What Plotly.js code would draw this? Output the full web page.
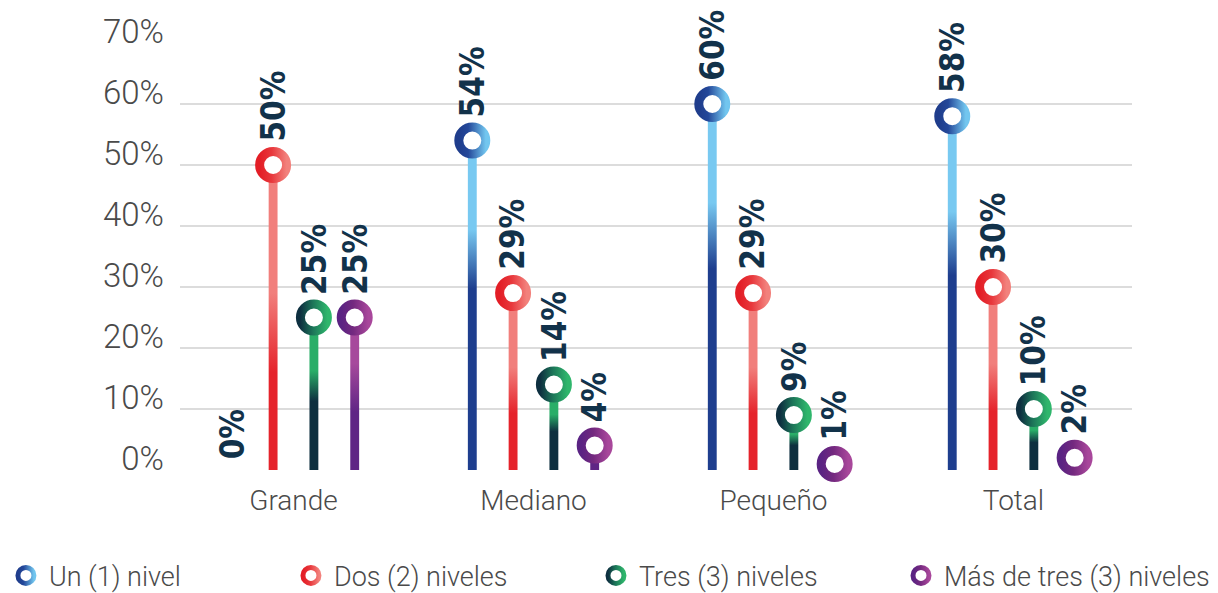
<!DOCTYPE html>
<html>
<head>
<meta charset="utf-8">
<script src="https://cdn.plot.ly/plotly-3.0.1.min.js"></script>
<style>
  html, body { margin: 0; padding: 0; background: #ffffff; }
  #chart { width: 1218px; height: 593px; }
</style>
</head>
<body>
<div id="chart"></div>
<script>
// Empresas por número de niveles jerárquicos, según tamaño
const categories = ['Grande', 'Mediano', 'Pequeño', 'Total'];
const seriesNames = ['Un (1) nivel', 'Dos (2) niveles', 'Tres (3) niveles', 'Más de tres (3) niveles'];
const unNivel     = [0, 54, 60, 58];
const dosNiveles  = [50, 29, 29, 30];
const tresNiveles = [25, 14, 9, 10];
const masDeTres   = [25, 4, 1, 2];
const yTicks = [0, 10, 20, 30, 40, 50, 60, 70];

const seriesValues = [unNivel, dosNiveles, tresNiveles, masDeTres];

// position of each series inside its category group (axis units)
const groupOffsets = [-0.255, -0.085, 0.085, 0.255];

// one legend box per series, spread along the bottom (paper x)
const legendIds = ['legend', 'legend2', 'legend3', 'legend4'];
const legendX = [-0.186, 0.1134, 0.4338, 0.7542];

// colour pairs: stems run top -> bottom, rings run left -> right
const stemStops = [
  [['0', '#78c9f1'], ['0.27', '#78c9f1'], ['0.45', '#1e3e8e'], ['1', '#1e3e8e']],
  [['0', '#f17f7c'], ['0.42', '#f17f7c'], ['0.68', '#e5232b'], ['1', '#e5232b']],
  [['0', '#2aae68'], ['0.35', '#2aae68'], ['0.55', '#0e2f3f'], ['1', '#0e2f3f']],
  [['0', '#a6499c'], ['0.3', '#a6499c'], ['0.62', '#5f2585'], ['1', '#5f2585']]
];
const ringStops = [
  [['0', '#1f3d8c'], ['0.35', '#24489a'], ['1', '#72c6ef']],
  [['0', '#e31e26'], ['0.45', '#e8383c'], ['1', '#f2817c']],
  [['0', '#0e3040'], ['0.45', '#1c7458'], ['1', '#2fb66c']],
  [['0', '#5a2383'], ['0.45', '#74297f'], ['1', '#a8479b']]
];
const baseColors = ['#1e3e8e', '#e5232b', '#2aae68', '#6a2a88'];

const labelFont = { family: '"DejaVu Sans Condensed", "Liberation Sans Narrow", sans-serif', size: 33, color: '#12324a', weight: 700 };
const axisFont = { family: 'Roboto, "Open Sans", sans-serif', size: 33, color: '#4a4a4a', weight: 300 };
const legendFont = { family: axisFont.family, size: 27, color: '#4a4a4a', weight: 300 };

const traces = [];
const annotations = [];

// stems
seriesValues.forEach((vals, i) => {
  traces.push({
    type: 'bar',
    x: categories.map((c, j) => j + groupOffsets[i]),
    y: vals,
    width: 0.037,
    marker: { color: baseColors[i], line: { width: 0 } },
    showlegend: false,
    hoverinfo: 'skip'
  });
});

// ring heads
seriesValues.forEach((vals, i) => {
  traces.push({
    type: 'scatter',
    mode: 'markers',
    name: seriesNames[i],
    legend: legendIds[i],
    x: categories.map((c, j) => j + groupOffsets[i]),
    y: vals.map(v => (v > 0 ? v : null)),
    cliponaxis: false,
    marker: { symbol: 'circle', size: 27, color: '#ffffff', line: { width: 9, color: baseColors[i] } },
    hoverinfo: 'skip'
  });
});

// rotated value labels
seriesValues.forEach((vals, i) => {
  vals.forEach((v, j) => {
    annotations.push({
      x: j + groupOffsets[i],
      y: v,
      xref: 'x',
      yref: 'y',
      text: v + '%',
      textangle: -90,
      showarrow: false,
      xanchor: 'center',
      yanchor: 'bottom',
      yshift: v > 0 ? 21 : 9,
      font: labelFont
    });
  });
});

const layout = {
  width: 1218,
  height: 593,
  paper_bgcolor: '#ffffff',
  plot_bgcolor: '#ffffff',
  margin: { l: 180, r: 86, t: 43, b: 123, autoexpand: false },
  barmode: 'overlay',
  showlegend: true,
  hovermode: false,
  xaxis: {
    range: [-0.473, 3.494],
    tickvals: categories.map((c, j) => j),
    ticktext: categories,
    showgrid: false,
    zeroline: false,
    showline: false,
    ticks: '',
    ticklabelstandoff: 11,
    tickfont: { family: axisFont.family, size: 28, color: '#4a4a4a', weight: 300 },
    fixedrange: true
  },
  yaxis: {
    range: [0, 70],
    tickvals: yTicks,
    ticktext: yTicks.map(t => t + '%'),
    showgrid: true,
    gridcolor: '#dcdcdc',
    gridwidth: 2,
    zeroline: false,
    showline: false,
    ticks: '',
    ticklabelstandoff: 15,
    ticklabelshift: -12,
    tickfont: axisFont,
    fixedrange: true
  },
  annotations: annotations
};

legendIds.forEach((id, i) => {
  layout[id] = {
    orientation: 'h',
    x: legendX[i],
    xanchor: 'left',
    y: -0.248,
    yanchor: 'middle',
    itemwidth: 36,
    font: legendFont,
    bgcolor: 'rgba(0,0,0,0)'
  };
});

function addGradient(defs, id, stops, vertical) {
  const ns = 'http://www.w3.org/2000/svg';
  const g = document.createElementNS(ns, 'linearGradient');
  g.setAttribute('id', id);
  g.setAttribute('x1', '0'); g.setAttribute('y1', '0');
  g.setAttribute('x2', vertical ? '0' : '1');
  g.setAttribute('y2', vertical ? '1' : '0');
  stops.forEach(([off, col]) => {
    const s = document.createElementNS(ns, 'stop');
    s.setAttribute('offset', off);
    s.setAttribute('stop-color', col);
    g.appendChild(s);
  });
  defs.appendChild(g);
}

Plotly.newPlot('chart', traces, layout, { displayModeBar: false, staticPlot: true }).then(gd => {
  const svg = gd.querySelector('.main-svg');
  const ns = 'http://www.w3.org/2000/svg';
  const defs = document.createElementNS(ns, 'defs');
  svg.insertBefore(defs, svg.firstChild);
  stemStops.forEach((st, i) => addGradient(defs, 'stem-' + i, st, true));
  ringStops.forEach((st, i) => addGradient(defs, 'ring-' + i, st, false));

  gd.querySelectorAll('.barlayer .trace').forEach((t, i) => {
    t.querySelectorAll('path').forEach(p => { p.style.fill = 'url(#stem-' + i + ')'; });
  });
  gd.querySelectorAll('.scatterlayer .trace').forEach((t, i) => {
    t.querySelectorAll('path.point').forEach(p => { p.style.stroke = 'url(#ring-' + i + ')'; });
  });
  legendIds.forEach((id, i) => {
    gd.querySelectorAll('.' + id + ' path.scatterpts').forEach(p => { p.style.stroke = 'url(#ring-' + i + ')'; });
  });
});
</script>
</body>
</html>
